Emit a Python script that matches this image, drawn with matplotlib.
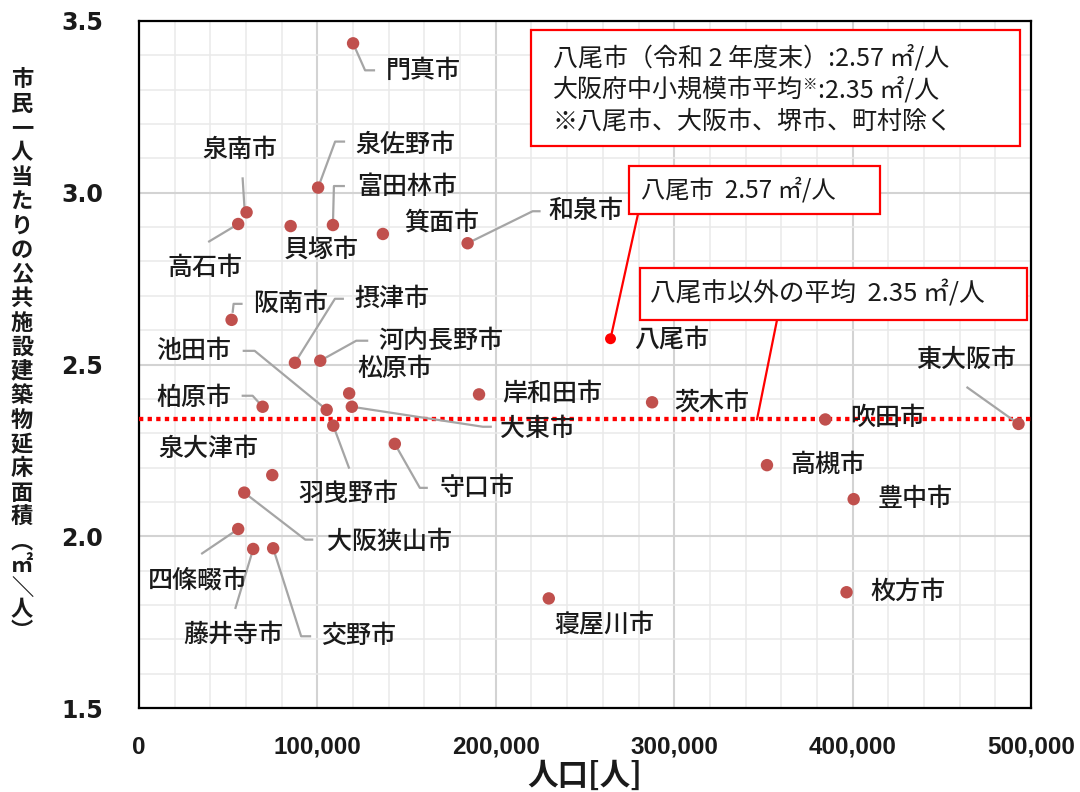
import matplotlib
matplotlib.use('Agg')
import matplotlib.pyplot as plt
from matplotlib.patches import Rectangle
from matplotlib.ticker import MultipleLocator, FuncFormatter
import numpy as np

# ---------------- data ----------------
cities = ['門真市', '泉南市', '高石市', '貝塚市', '泉佐野市', '富田林市', '箕面市', '和泉市',
          '阪南市', '摂津市', '河内長野市', '松原市', '池田市', '大東市', '羽曳野市', '柏原市',
          '岸和田市', '守口市', '泉大津市', '大阪狭山市', '四條畷市', '藤井寺市', '交野市',
          '八尾市', '茨木市', '吹田市', '東大阪市', '高槻市', '豊中市', '枚方市', '寝屋川市']
population = [120000, 60300, 55600, 85000, 100400, 108700, 136700, 184200,
              51900, 87400, 101600, 117800, 105200, 119300, 108900, 69300,
              190600, 143400, 74700, 59000, 55600, 64000, 75200,
              264300, 287600, 384700, 493000, 352000, 400600, 396600, 229700]
floor_area = [3.435, 2.943, 2.909, 2.903, 3.015, 2.906, 2.880, 2.853,
              2.630, 2.505, 2.511, 2.416, 2.368, 2.377, 2.322, 2.377,
              2.413, 2.269, 2.178, 2.127, 2.021, 1.963, 1.965,
              2.575, 2.390, 2.340, 2.327, 2.207, 2.108, 1.837, 1.819]
highlight_city = '八尾市'
average_others = 2.34
x_ticks = [0, 100000, 200000, 300000, 400000, 500000]
y_ticks = [1.5, 2.0, 2.5, 3.0, 3.5]

# label placement: offset of label centre from point (pixels, right / down)
label_offsets = {
    '門真市': (70, 28), '泉南市': (-7, -62), '高石市': (-33, 44), '貝塚市': (31, 24),
    '泉佐野市': (87, -43), '富田林市': (74, -38), '箕面市': (59, -11), '和泉市': (118, -32),
    '阪南市': (59, -16), '摂津市': (97, -64), '河内長野市': (121, -20), '松原市': (46, -24),
    '池田市': (-133, -59), '大東市': (186, 22), '羽曳野市': (15, 68), '柏原市': (-69, -9),
    '岸和田市': (73, 0), '守口市': (82, 44), '泉大津市': (-64, -26), '大阪狭山市': (145, 49),
    '四條畷市': (-40, 51), '藤井寺市': (-20, 86), '交野市': (85, 88), '八尾市': (61, 1),
    '茨木市': (60, 0), '吹田市': (62, -1), '東大阪市': (-52, -64), '高槻市': (61, 0),
    '豊中市': (61, 0), '枚方市': (61, 0), '寝屋川市': (56, 27),
}
# leader lines: vertices relative to point (pixels, right / down)
leaders = {
    '門真市': [(0, 0), (12, 27), (22, 27)],
    '泉南市': [(-2, -3), (-4, -35)],
    '高石市': [(0, 0), (-30, 18)],
    '泉佐野市': [(0, 0), (17, -46), (27, -46)],
    '富田林市': [(0, 0), (1, -39), (12, -39)],
    '和泉市': [(0, 0), (65, -32), (73, -32)],
    '阪南市': [(1, -7), (2, -16), (11, -16)],
    '摂津市': [(0, 0), (40, -64), (49, -64)],
    '河内長野市': [(0, 0), (36, -20), (48, -20)],
    '池田市': [(0, 0), (-72, -59), (-84, -59)],
    '大東市': [(0, 0), (131, 20), (140, 20)],
    '羽曳野市': [(0, 0), (16, 43)],
    '柏原市': [(0, 0), (-10, -11), (-21, -11)],
    '守口市': [(0, 0), (25, 44), (33, 44)],
    '大阪狭山市': [(0, 0), (61, 47), (69, 47)],
    '四條畷市': [(0, 0), (-37, 25)],
    '藤井寺市': [(0, 0), (-18, 60)],
    '交野市': [(0, 0), (28, 88), (38, 88)],
    '東大阪市': [(0, 0), (-52, -37)],
}

JP = ['Noto Sans CJK JP', 'DejaVu Sans']
plt.rcParams['font.family'] = JP

W, H = 1080, 792
fig = plt.figure(figsize=(W / 100, H / 100), dpi=100)
L, R, T, B = 139, 1031, 21, 708
ax = fig.add_axes([L / W, 1 - B / H, (R - L) / W, (B - T) / H])

def axf(px, py):
    return ((px - L) / (R - L), (B - py) / (B - T))

ax.set_xlim(x_ticks[0], x_ticks[-1])
ax.set_ylim(y_ticks[0], y_ticks[-1])
ax.set_xticks(x_ticks)
ax.set_yticks(y_ticks)
ax.xaxis.set_minor_locator(MultipleLocator(20000))
ax.yaxis.set_minor_locator(MultipleLocator(0.1))
ax.xaxis.set_major_formatter(FuncFormatter(lambda v, p: f'{int(v):,}'))
ax.yaxis.set_major_formatter(FuncFormatter(lambda v, p: f'{v:.1f}'))
ax.grid(which='minor', color='#EAEAEA', lw=1.1)
ax.grid(which='major', color='#D3D3D3', lw=1.5)
ax.set_axisbelow(True)
ax.tick_params(which='both', length=0)
ax.tick_params(axis='x', pad=20)
ax.tick_params(axis='y', pad=26)
for lab in ax.get_xticklabels():
    lab.set_fontfamily(['Liberation Sans', 'DejaVu Sans'])
    lab.set_fontweight('bold')
    lab.set_fontsize(17.5)
    lab.set_color('#1a1a1a')
for lab in ax.get_yticklabels():
    lab.set_fontfamily(['DejaVu Sans'])
    lab.set_fontweight('bold')
    lab.set_fontsize(17)
    lab.set_color('#1a1a1a')
for sp in ax.spines.values():
    sp.set_color('black')
    sp.set_linewidth(1.6)

# average line
ax.axhline(average_others, color='#FF0000', lw=3.1, dashes=(1, 1),
           dash_capstyle='butt', zorder=3)

# leader lines
for i, c in enumerate(cities):
    if c in leaders:
        p0 = ax.transData.transform((population[i], floor_area[i]))
        verts = np.array([[p0[0] + dx, p0[1] - dy] for dx, dy in leaders[c]])
        dv = ax.transData.inverted().transform(verts)
        ax.plot(dv[:, 0], dv[:, 1], color='#A5A5A5', lw=1.6, zorder=4,
                solid_capstyle='butt')

# points
colors = ['#FF0000' if c == highlight_city else '#C0504D' for c in cities]
sizes = [62 if c == highlight_city else 80 for c in cities]
ax.scatter(population, floor_area, s=sizes, c=colors, zorder=5, linewidths=0)

# labels
for i, c in enumerate(cities):
    dx, dy = label_offsets[c]
    ax.annotate(c, xy=(population[i], floor_area[i]), xytext=(dx, -dy),
                textcoords='offset pixels', ha='center', va='center',
                fontsize=18, fontweight='medium', color='#1a1a1a', zorder=6)

# info boxes
def box(x0, y0, x1, y1):
    a0 = axf(x0, y1)
    a1 = axf(x1, y0)
    ax.add_patch(Rectangle(a0, a1[0] - a0[0], a1[1] - a0[1], transform=ax.transAxes,
                           fc='white', ec='#FF0000', lw=1.6, zorder=7, clip_on=False))

box(531, 30, 1020, 146)
ax.text(*axf(553, 58), '八尾市（令和 2 年度末）:2.57 ㎡/人', transform=ax.transAxes,
        ha='left', va='center', fontsize=18, color='#1a1a1a', zorder=8)
main2 = ax.text(*axf(553, 90), '大阪府中小規模市平均', transform=ax.transAxes,
                ha='left', va='center', fontsize=18, color='#1a1a1a', zorder=8)
star = ax.annotate('※', xy=(1, 0.95), xycoords=main2, ha='left', va='top',
                   fontsize=10.5, color='#1a1a1a', zorder=8)
ax.annotate(':2.35 ㎡/人', xy=(1, 0.5), xycoords=(star, main2), ha='left', va='center',
            fontsize=18, color='#1a1a1a', zorder=8)
ax.text(*axf(553, 122), '※八尾市、大阪市、堺市、町村除く', transform=ax.transAxes,
        ha='left', va='center', fontsize=18, color='#1a1a1a', zorder=8)

yi = cities.index(highlight_city)
box(629, 166, 880, 214)
ax.text(*axf(641, 190), '八尾市  2.57 ㎡/人', transform=ax.transAxes,
        ha='left', va='center', fontsize=17.5, color='#1a1a1a', zorder=8)
ax.annotate('', xy=(population[yi], floor_area[yi]), xycoords='data',
            xytext=axf(638, 214), textcoords='axes fraction',
            arrowprops=dict(arrowstyle='-', color='#FF0000', lw=1.6, shrinkA=0, shrinkB=0),
            zorder=6)

box(640, 268, 1027, 320)
ax.text(*axf(650, 294), '八尾市以外の平均  2.35 ㎡/人', transform=ax.transAxes,
        ha='left', va='center', fontsize=18.5, color='#1a1a1a', zorder=8)
ax.annotate('', xy=(axf(757, 0)[0], average_others), xycoords=('axes fraction', 'data'),
            xytext=axf(777, 320), textcoords='axes fraction',
            arrowprops=dict(arrowstyle='-', color='#FF0000', lw=1.6, shrinkA=0, shrinkB=0),
            zorder=6)

# axis labels
fig.text((L + R) / 2 / W, 1 - 776 / H, '人口[人]', ha='center', va='center',
         fontsize=22, fontweight='bold', color='#1a1a1a')
ylabel_chars = list('市民一人当たりの公共施設建築物延床面積') + ['︵', '㎡', '＼', '人', '︶']
ypos = [80 + i * 24.3 for i in range(20)] + [566, 588, 610, 632, 654]
for ch, yp in zip(ylabel_chars, ypos):
    fig.text(22 / W, 1 - yp / H, ch, ha='center', va='center', fontsize=16,
             fontweight='bold', color='#1a1a1a')

fig.savefig('out.png', dpi=100, facecolor='white')
